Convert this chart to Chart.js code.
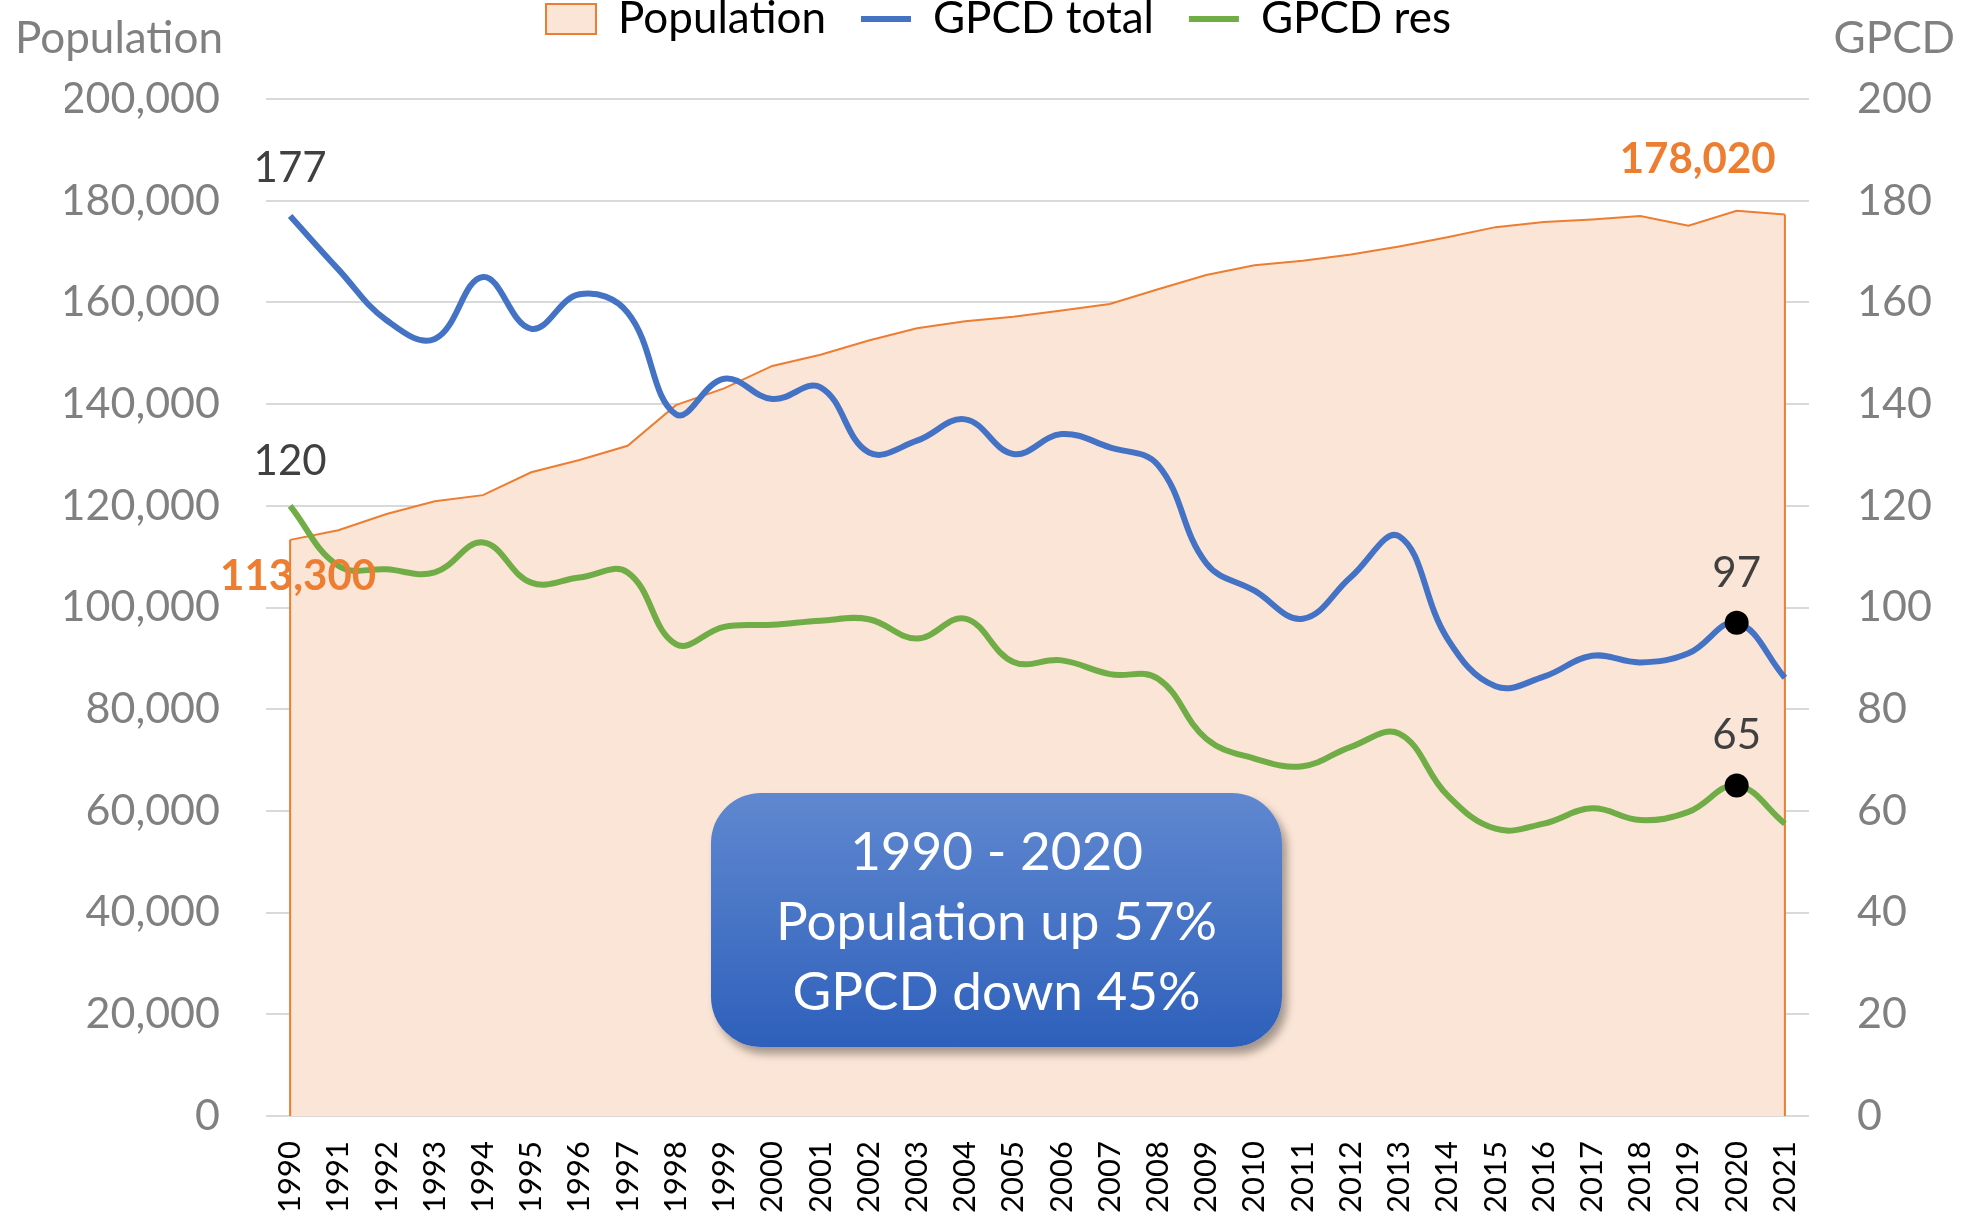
<!DOCTYPE html>
<html>
<head>
<meta charset="utf-8">
<script src="https://cdn.jsdelivr.net/npm/chart.js@4.4.1/dist/chart.umd.min.js"></script>
<style>
  body { margin: 0; background: #fff; }
  #wrap { position: relative; width: 1970px; height: 1218px; }
  #note {
    position: absolute; left: 711px; top: 793px; width: 571px; height: 254px;
    border-radius: 50px;
    background: linear-gradient(#6088d0, #2e60bb);
    box-shadow: 5px 7px 9px rgba(0,0,0,0.35);
    color: #fff; font-family: Lato, sans-serif; font-size: 53px; line-height: 70px;
    display: flex; flex-direction: column; justify-content: center; text-align: center;
  }
</style>
</head>
<body>
<div id="wrap">
  <canvas id="chart" width="1970" height="1218"></canvas>
  <div id="note"><div>1990 - 2020</div><div>Population up 57%</div><div>GPCD down 45%</div></div>
</div>
<script>
const years = ['1990','1991','1992','1993','1994','1995','1996','1997','1998','1999',
  '2000','2001','2002','2003','2004','2005','2006','2007','2008','2009',
  '2010','2011','2012','2013','2014','2015','2016','2017','2018','2019','2020','2021'];

const population = [113300, 115200, 118400, 120900, 122100, 126600, 129000, 131800, 139800, 143100,
  147500, 149700, 152500, 154900, 156300, 157200, 158400, 159700, 162600, 165400,
  167300, 168200, 169400, 171000, 172800, 174800, 175800, 176300, 177000, 175100, 178020, 177300];

const gpcdTotal = [177, 166.5, 156.5, 152.8, 165, 154.8, 161.6, 158, 138, 145,
  141, 143.3, 130.5, 132.8, 137, 130.2, 134.1, 131.5, 128, 108.7,
  103.3, 97.8, 106, 114, 93.9, 84.5, 86.4, 90.5, 89.2, 91, 97, 86.2];

const gpcdRes = [120, 108.2, 107.5, 106.9, 112.8, 104.9, 105.9, 106.9, 92.8, 96.2,
  96.6, 97.4, 97.7, 93.9, 97.8, 89.3, 89.6, 86.9, 86, 74.2,
  70.3, 68.8, 72.6, 75.2, 63.1, 56.5, 57.5, 60.5, 58.2, 59.8, 65, 57.5];

const popTicks = [0, 20000, 40000, 60000, 80000, 100000, 120000, 140000, 160000, 180000, 200000];
const gpcdTicks = [0, 20, 40, 60, 80, 100, 120, 140, 160, 180, 200];

const FONT = 'Lato, "Open Sans", sans-serif';
const markAt = 30; // 2020

// lines hide their points except a black dot at 2020;
// point 0 keeps a coloured 'line' style so the legend swatch is a coloured line
function pointOpts(color) {
  return {
    pointStyle: years.map((_, i) => i === markAt ? 'circle' : 'line'),
    pointRadius: years.map((_, i) => i === markAt ? 12 : 0),
    pointBackgroundColor: '#000',
    pointBorderColor: years.map((_, i) => i === markAt ? '#000' : color),
    pointBorderWidth: years.map((_, i) => i === markAt ? 0 : 6)
  };
}

// push the plot down below the legend / axis titles
const legendSpace = {
  id: 'legendSpace',
  beforeInit(chart) {
    const fit = chart.legend.fit;
    chart.legend.fit = function () { fit.call(this); this.height += 48; };
  }
};

// Excel-style area: close the population area with vertical edges
const areaEdges = {
  id: 'areaEdges',
  afterDatasetDraw(chart, args) {
    if (args.index !== 0) return;
    const pts = args.meta.data;
    const bottom = chart.scales.y.getPixelForValue(0);
    const ctx = chart.ctx;
    ctx.save();
    ctx.strokeStyle = '#ED7D31';
    ctx.lineWidth = 2;
    ctx.beginPath();
    ctx.moveTo(pts[0].x, pts[0].y); ctx.lineTo(pts[0].x, bottom);
    const last = pts[pts.length - 1];
    ctx.moveTo(last.x, last.y); ctx.lineTo(last.x, bottom);
    ctx.stroke();
    ctx.restore();
  }
};

const labels = {
  id: 'labels',
  afterDatasetsDraw(chart) {
    const ctx = chart.ctx;
    const pop = chart.getDatasetMeta(0).data;
    const tot = chart.getDatasetMeta(1).data;
    const res = chart.getDatasetMeta(2).data;
    ctx.save();
    ctx.textAlign = 'center';
    ctx.textBaseline = 'middle';
    ctx.font = '42px ' + FONT;
    ctx.fillStyle = '#404040';
    ctx.fillText(String(gpcdTotal[0]), tot[0].x, tot[0].y - 48);
    ctx.fillText(String(gpcdRes[0]), res[0].x, res[0].y - 44);
    ctx.fillText(String(gpcdTotal[markAt]), tot[markAt].x, tot[markAt].y - 49);
    ctx.fillText(String(gpcdRes[markAt]), res[markAt].x, res[markAt].y - 50);
    ctx.font = 'bold 42px ' + FONT;
    ctx.fillStyle = '#ED7D31';
    ctx.fillText(population[0].toLocaleString('en-US'), pop[0].x + 8, pop[0].y + 37);
    ctx.fillText(population[markAt].toLocaleString('en-US'), pop[markAt].x - 39, pop[markAt].y - 51);
    // axis titles
    ctx.font = '44px ' + FONT;
    ctx.fillStyle = '#808080';
    ctx.textAlign = 'left';
    ctx.fillText('Population', 15, 39);
    ctx.textAlign = 'right';
    ctx.fillText('GPCD', 1955, 39);
    ctx.restore();
  }
};

new Chart(document.getElementById('chart'), {
  type: 'line',
  data: {
    labels: years,
    datasets: [
      {
        label: 'Population',
        data: population,
        yAxisID: 'y',
        borderColor: '#ED7D31',
        backgroundColor: '#FBE5D6',
        borderWidth: 2,
        fill: 'origin',
        tension: 0,
        pointRadius: 0,
        pointStyle: 'rect',
        pointBorderWidth: 2,
        order: 1
      },
      Object.assign({
        label: 'GPCD total',
        data: gpcdTotal,
        yAxisID: 'y1',
        borderColor: '#4472C4',
        backgroundColor: '#4472C4',
        borderWidth: 6,
        tension: 0.4,
        order: 0
      }, pointOpts('#4472C4')),
      Object.assign({
        label: 'GPCD res',
        data: gpcdRes,
        yAxisID: 'y1',
        borderColor: '#70AD47',
        backgroundColor: '#70AD47',
        borderWidth: 6,
        tension: 0.4,
        order: 0
      }, pointOpts('#70AD47'))
    ]
  },
  options: {
    responsive: false,
    animation: false,
    layout: { padding: { top: -38, left: 65, right: 38, bottom: 0 } },
    plugins: {
      legend: {
        position: 'top',
        labels: {
          usePointStyle: true,
          pointStyleWidth: 50,
          boxHeight: 30,
          padding: 35,
          color: '#000',
          font: { family: FONT, size: 44 },
          sort: (a, b) => a.datasetIndex - b.datasetIndex
        }
      },
      tooltip: { enabled: false }
    },
    scales: {
      x: {
        offset: true,
        grid: { display: false },
        border: { display: false },
        afterFit: s => { s.height = 102; },
        ticks: {
          color: '#000',
          font: { family: FONT, size: 31 },
          minRotation: 90, maxRotation: 90,
          autoSkip: false,
          padding: 17
        }
      },
      y: {
        position: 'left',
        min: popTicks[0], max: popTicks[popTicks.length - 1],
        afterBuildTicks: s => { s.ticks = popTicks.map(v => ({ value: v })); },
        afterFit: s => { s.width = 201; },
        grid: { color: '#D9D9D9', lineWidth: 2, drawTicks: false },
        border: { display: false },
        ticks: {
          color: '#808080',
          font: { family: FONT, size: 43 },
          padding: 46,
          callback: v => v.toLocaleString('en-US')
        }
      },
      y1: {
        position: 'right',
        min: gpcdTicks[0], max: gpcdTicks[gpcdTicks.length - 1],
        afterBuildTicks: s => { s.ticks = gpcdTicks.map(v => ({ value: v })); },
        afterFit: s => { s.width = 123; },
        grid: { display: false, drawTicks: false },
        border: { display: false },
        ticks: {
          color: '#808080',
          font: { family: FONT, size: 43 },
          padding: 48
        }
      }
    }
  },
  plugins: [legendSpace, areaEdges, labels]
});
</script>
</body>
</html>
